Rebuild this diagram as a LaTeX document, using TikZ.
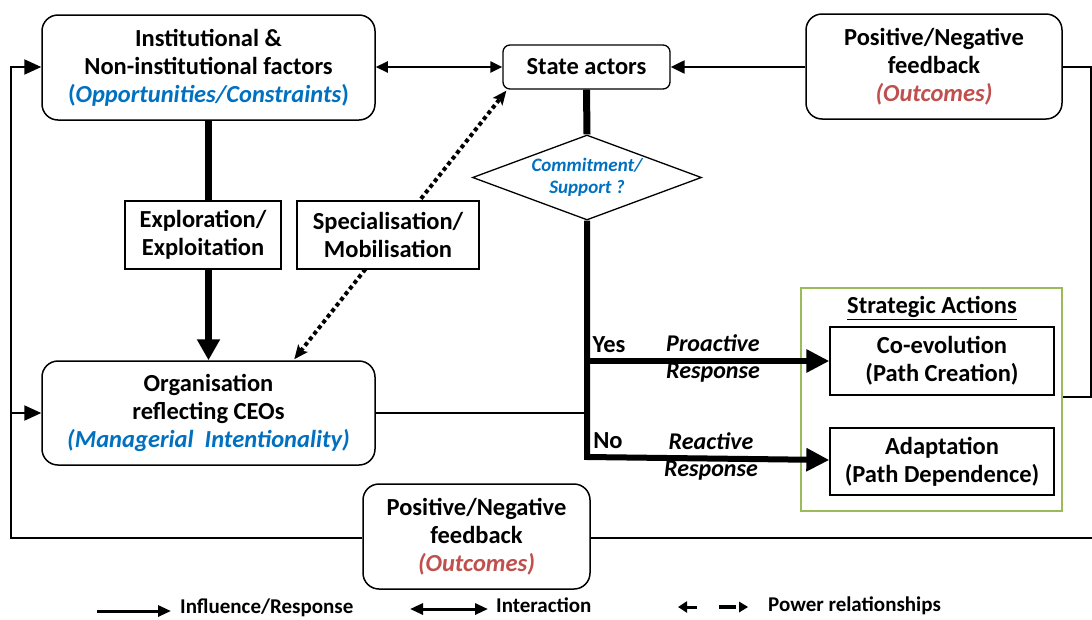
\documentclass[tikz,border=0pt]{standalone}
\usepackage{fontspec}
\setmainfont{Carlito}
\usetikzlibrary{arrows.meta,shapes.geometric,calc}
\definecolor{txtblue}{RGB}{0,112,192}
\definecolor{txtred}{RGB}{192,80,77}
\definecolor{boxgreen}{RGB}{155,187,89}

\begin{document}
\begin{tikzpicture}[x=1pt,y=-1pt,
  every node/.style={font=\fontsize{24.5}{28}\selectfont\bfseries, align=center, inner sep=0pt},
  rbox/.style={draw, line width=1.5pt, rounded corners=16pt, fill=white},
  sbox/.style={draw, line width=1.3pt, fill=white},
  link/.style={line width=2.2pt},
  linkarrow/.style={link, -{Triangle[length=17pt,width=15pt]}},
  interact/.style={link, {Triangle[length=12pt,width=11pt]}-{Triangle[length=12pt,width=11pt]}},
  heavy/.style={line width=7pt},
  heavyarrow/.style={line width=6pt, line join=miter, -{Triangle[length=23pt,width=22pt]}},
  power/.style={line width=4pt, dash pattern=on 4pt off 3.2pt,
    {Stealth[length=14pt,width=12pt,inset=3pt]}-{Stealth[length=14pt,width=12pt,inset=3pt]}},
  legendtxt/.style={font=\fontsize{21}{24}\selectfont\bfseries, anchor=base west},
]
\useasboundingbox (0,0) rectangle (1092,619);

% ---- main boxes ----
\node[rbox, minimum width=333pt, minimum height=105pt] (inst) at (208.5,67.5)
  {Institutional \&\\Non-institutional factors\\{\color{txtblue}(\textit{Opportunities/Constraints})}};
\node[sbox, rounded corners=7pt, minimum width=167pt, minimum height=44pt] (state) at (586.5,67)
  {State actors};
\node[rbox, minimum width=256pt, minimum height=105pt] (fbtop) at (934,66.5)
  {Positive/Negative\\feedback\\{\color{txtred}\itshape(Outcomes)}};
\node[draw, line width=1.3pt, fill=white, shape=diamond, aspect=2.7, inner sep=0pt,
  minimum width=229pt, minimum height=85pt,
  font=\fontsize{19}{22}\selectfont\bfseries\itshape, text=txtblue] (dia) at (587,177.5)
  {Commitment/\\Support ?};
\node[sbox, minimum width=156pt, minimum height=68pt] (explo) at (203,235)
  {Exploration/\\Exploitation};
\node[rbox, minimum width=333pt, minimum height=104pt] (org) at (208.5,413)
  {Organisation\\reflecting CEOs\\{\color{txtblue}\itshape(Managerial\ \ Intentionality)}};
\node[rbox, minimum width=227pt, minimum height=105pt] (fbbot) at (476.5,536.5)
  {Positive/Negative\\feedback\\{\color{txtred}\itshape(Outcomes)}};

% ---- strategic actions group ----
\node[draw=boxgreen, line width=1.6pt, minimum width=261pt, minimum height=223pt] (sact) at (931.5,399.5) {};
\node (satitle) at (932,308) {\underline{Strategic Actions}};
\node[sbox, minimum width=224pt, minimum height=68pt] (coev) at (942,361)
  {Co-evolution\\(Path Creation)};
\node[sbox, minimum width=224pt, minimum height=67pt] (adapt) at (942,461.5)
  {Adaptation\\(Path Dependence)};

% ---- power relationship (dotted), passing behind the specialisation box ----
\draw[power] ($(org.north west)+(253,-1)$) -- ($(state.south west)+(4,1)$);
\node[sbox, minimum width=182pt, minimum height=68pt] (spec) at (388,235)
  {Specialisation/\\Mobilisation};

% ---- connectors ----
\draw[interact] (inst.east |- state.west) -- (state.west);
\draw[linkarrow, -{Triangle[length=14pt,width=13pt]}] (fbtop.west |- state.east) -- (state.east);

\coordinate (rc) at (1091,397);
\draw[link] (fbtop.east |- state.east) -- (rc |- state.east) -- (rc) -- (rc -| sact.east);

\coordinate (bl) at (11,538);
\coordinate (br) at (1092,538);
\draw[link] (fbbot.east |- br) -- (br);
\draw[linkarrow] (fbbot.west |- bl) -- (bl) |- (inst.west |- state.west);
\draw[linkarrow] (bl |- org.west) -- (org.west);

\draw[heavy] (inst.south) -- (inst.south |- explo.north);
\draw[heavy, -{Triangle[length=21pt,width=22pt]}] (inst.south |- explo.south) -- (org.north);

\coordinate (yes) at (587,361);
\coordinate (no) at (587,460);
\draw[heavy] (state.south) -- (dia.north);
\draw[heavyarrow] (dia.south) -- ([yshift=3pt]no) -- (adapt.west |- no);
\draw[heavyarrow] (yes) -- (coev.west |- yes);
\draw[link] (org.east) -- (org.east -| yes);

\node (lyes) at (609,345) {Yes};
\node (lno) at (608,441) {No};
\node[font=\fontsize{24}{27}\selectfont\bfseries\itshape] (lpro) at (713,358) {Proactive\\Response};
\node[font=\fontsize{24}{27}\selectfont\bfseries\itshape] (lrea) at (711,456) {Reactive\\Response};

% ---- legend ----
\coordinate (l1a) at (97,611);  \coordinate (l1b) at (171,611);
\draw[line width=3pt, -{Triangle[length=13pt,width=11pt]}] (l1a) -- (l1b);
\node[legendtxt] (t1) at (180,613) {Influence/Response};
\coordinate (l2a) at (410,609); \coordinate (l2b) at (488,609);
\draw[line width=3pt, {Triangle[length=13pt,width=11pt]}-{Triangle[length=13pt,width=11pt]}] (l2a) -- (l2b);
\node[legendtxt] (t2) at (496,612) {Interaction};
\coordinate (l3a) at (678,607); \coordinate (l3b) at (697,607);
\coordinate (l3c) at (719,607); \coordinate (l3d) at (736,607);
\coordinate (l3e) at (739,607); \coordinate (l3f) at (748,607);
\draw[line width=3pt, -{Triangle[length=9pt,width=11pt]}] (l3b) -- (l3a);
\draw[line width=3.5pt] (l3c) -- (l3d);
\fill (l3e) ++(0,-5.5) -- (l3f) -- ++(-9,5.5) -- cycle;
\node[legendtxt] (t3) at (768,611) {Power relationships};
\end{tikzpicture}
\end{document}
